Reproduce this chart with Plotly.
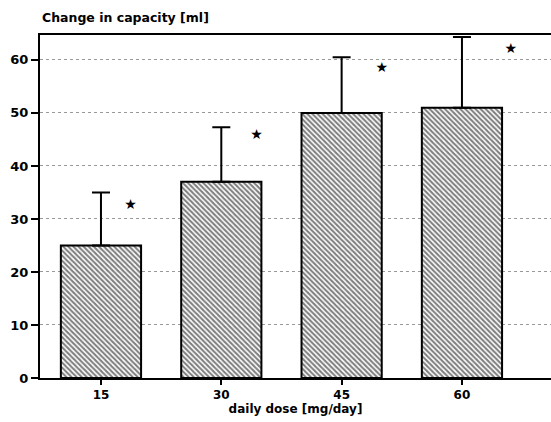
import plotly.graph_objects as go

doses = [15, 30, 45, 60]
dose_labels = ["15", "30", "45", "60"]
change_ml = [25, 37, 50, 51]
error_up = [10, 10.3, 10.5, 13.3]
star_y = [32.6, 45.8, 58.3, 61.9]
star_xoff = [3.7, 4.4, 5.0, 6.1]
y_ticks = [0, 10, 20, 30, 40, 50, 60]

FONT = "DejaVu Sans"

fig = go.Figure()
fig.add_trace(go.Bar(
    x=doses, y=change_ml, width=10,
    marker=dict(color="white",
                line=dict(color="black", width=2),
                pattern=dict(shape="\\", fgcolor="black", bgcolor="white",
                             size=3.6, solidity=0.55)),
    error_y=dict(type="data", array=error_up, arrayminus=[0]*4, symmetric=False,
                 color="black", thickness=2, width=9),
    showlegend=False,
))
fig.add_trace(go.Scatter(
    x=[d + o for d, o in zip(doses, star_xoff)], y=star_y, mode="text",
    text=["★"] * 4, textfont=dict(size=14, color="black"),
    showlegend=False, hoverinfo="skip",
))

fig.update_layout(
    width=551, height=422,
    margin=dict(l=40, r=0, t=35, b=44),
    plot_bgcolor="white", paper_bgcolor="white",
    font=dict(family=FONT, size=12, color="black"),
    annotations=[dict(text="<b>Change in capacity [ml]</b>", xref="paper", yref="paper",
                      x=0.0, y=1, xanchor="left", yanchor="bottom", yshift=8,
                      showarrow=False, font=dict(family=FONT, size=12.5, color="black"))],
)
fig.update_xaxes(
    range=[7.4, 71.1], tickvals=doses, ticktext=dose_labels,
    ticks="outside", ticklen=5, tickwidth=2, tickcolor="black",
    showline=True, linecolor="black", linewidth=2, mirror=True,
    showgrid=False, zeroline=False,
    tickfont=dict(family=FONT, size=12, weight="bold"),
    title=dict(text="daily dose [mg/day]", standoff=2,
               font=dict(family=FONT, size=12, weight="bold")),
)
fig.update_yaxes(
    range=[0, 64.7], tickvals=y_ticks,
    ticks="outside", ticklen=7, tickwidth=1.5, tickcolor="black",
    showline=True, linecolor="black", linewidth=2,
    showgrid=True, gridcolor="#999999", griddash="dot", gridwidth=1,
    zeroline=False,
    tickfont=dict(family=FONT, size=13, weight="bold"),
)
fig.write_html("out.html", config={"displayModeBar": False},
               post_script="document.body.style.margin='0';")
